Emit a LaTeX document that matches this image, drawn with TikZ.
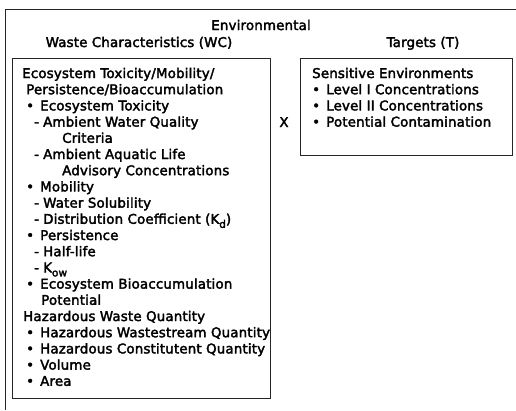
\documentclass[tikz,border=0pt]{standalone}
\usepackage{fontspec}
\setmainfont{DejaVu Sans}[FakeBold=2.5,LetterSpace=1.2]
\usetikzlibrary{positioning}
\newcommand\lowsub[1]{\raisebox{-0.55ex}{\fontsize{10.5}{10.5}\selectfont #1}}
\newcommand\bul{\makebox[14pt][l]{•}}
\newcommand\dsh{\makebox[9pt][l]{-}}
\begin{document}
\begin{tikzpicture}[x=1pt,y=-1pt,font=\fontsize{13.4}{16}\selectfont,
    txt/.style={anchor=base west,inner sep=0pt},
    head/.style={anchor=base,inner sep=0pt},
    frame/.style={draw=black!85,line width=0.8pt},
    box/.style={frame,anchor=north west,inner sep=0pt}]
    \useasboundingbox (0,0) rectangle (516,410);
    \coordinate (ftl) at (5,9);
    \coordinate (ftr) at (516,9);
    \coordinate (fbl) at (5,410);
    \draw[frame] (ftr) -- (ftl) -- (fbl);
    \node[head] (env) at (261,30) {Environmental};
    \node[head] (wc) at (139,47) {Waste Characteristics (WC)};
    \node[head] (tg) at (423,47) {Targets (T)};
    \node[box,minimum width=258pt,minimum height=340pt] (wcbox) at (12,58) {};
    \node[box,minimum width=212pt,minimum height=97pt] (tbox) at (300,58) {};
    \node[head] (times) at (284,127) {X};
    \foreach \x/\t [count=\i] in {
        22/{Ecosystem Toxicity/Mobility/},
        26/{Persistence/Bioaccumulation},
        26/{\bul Ecosystem Toxicity},
        34/{\dsh Ambient Water Quality},
        62/{Criteria},
        34/{\dsh Ambient Aquatic Life},
        62/{Advisory Concentrations},
        26/{\bul Mobility},
        34/{\dsh Water Solubility},
        34/{\dsh Distribution Coefficient (K\lowsub{d})},
        26/{\bul Persistence},
        34/{\dsh Half-life},
        34/{\dsh K\lowsub{ow}},
        26/{\bul Ecosystem Bioaccumulation},
        41/{Potential},
        23/{Hazardous Waste Quantity},
        26/{\bul Hazardous Wastestream Quantity},
        26/{\bul Hazardous Constitutent Quantity},
        26/{\bul Volume},
        26/{\bul Area}}
        \node[txt] (wc\i) at (\x,{78+16.2*(\i-1)}) {\t};
    \foreach \x/\t [count=\i] in {
        312/{Sensitive Environments},
        312/{\bul Level I Concentrations},
        312/{\bul Level II Concentrations},
        312/{\bul Potential Contamination}}
        \node[txt] (tg\i) at (\x,{78+16.2*(\i-1)}) {\t};
\end{tikzpicture}
\end{document}
